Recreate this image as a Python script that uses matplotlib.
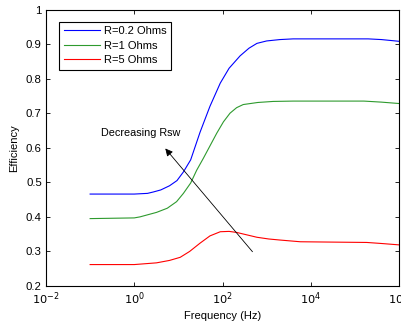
import matplotlib
matplotlib.use("Agg")
import matplotlib.pyplot as plt
import numpy as np

plt.rcParams['font.family'] = ['Liberation Sans', 'DejaVu Sans']

# frequency points (Hz) and efficiencies
freq_blue = [0.1, 1, 2, 2.7, 4, 6.3, 9.3, 13, 19, 31, 52, 89, 141, 251, 398, 603,
             1000, 2000, 4000, 200000, 400000, 1000000]
eff_blue = [0.466, 0.466, 0.468, 0.472, 0.478, 0.490, 0.505, 0.530, 0.565, 0.645, 0.720,
            0.787, 0.830, 0.866, 0.888, 0.902, 0.909, 0.913, 0.915, 0.915, 0.913, 0.908]

freq_green = [0.1, 1, 1.35, 3.2, 5.6, 9.1, 13, 19, 26, 37, 74, 105, 148, 209, 295, 631,
              1400, 4000, 160000, 400000, 1000000]
eff_green = [0.395, 0.397, 0.400, 0.413, 0.425, 0.444, 0.468, 0.498, 0.535, 0.570, 0.642,
             0.675, 0.700, 0.716, 0.725, 0.731, 0.734, 0.735, 0.735, 0.732, 0.728]

freq_red = [0.1, 1, 3.2, 6.3, 11, 18, 31, 52, 89, 141, 209, 355, 603, 1120, 2000, 5800,
            31600, 186000, 400000, 1000000]
eff_red = [0.262, 0.262, 0.267, 0.274, 0.283, 0.300, 0.324, 0.345, 0.357, 0.358, 0.355,
           0.348, 0.341, 0.336, 0.333, 0.328, 0.327, 0.326, 0.323, 0.319]

labels = ['R=0.2 Ohms', 'R=1 Ohms', 'R=5 Ohms']

fig = plt.figure(figsize=(4.01, 3.24), dpi=100)
ax = fig.add_axes([46 / 401, 1 - 286 / 324, 353 / 401, 276.5 / 324])

ax.semilogx(freq_blue, eff_blue, color='#0000ff', lw=0.8, label=labels[0])
ax.semilogx(freq_green, eff_green, color='#2e9a2e', lw=0.8, label=labels[1])
ax.semilogx(freq_red, eff_red, color='#ff0000', lw=0.8, label=labels[2])

ax.set_xlim(1e-2, 1e6)
ax.set_ylim(0.2, 1.0)
ax.set_xticks([1e-2, 1e0, 1e2, 1e4, 1e6])
ax.set_xticklabels(['$10^{-2}$', '$10^{0}$', '$10^{2}$', '$10^{4}$', '$10^{6}$'])
ax.set_yticks(np.arange(0.2, 1.01, 0.1))
ax.set_yticklabels(['0.2', '0.3', '0.4', '0.5', '0.6', '0.7', '0.8', '0.9', '1'])
ax.minorticks_off()
ax.tick_params(direction='in', top=True, right=True, labelsize=8.2, length=3, width=0.6, pad=3)
for s in ax.spines.values():
    s.set_linewidth(0.8)

ax.set_xlabel('Frequency (Hz)', fontsize=8, labelpad=3)
ax.set_ylabel('Efficiency', fontsize=8, labelpad=5)

ax.annotate('', xy=(4.6, 0.604), xytext=(525, 0.293),
            arrowprops=dict(arrowstyle='-|>', color='black', lw=0.6, mutation_scale=11))
ax.text(0.18, 0.643, 'Decreasing Rsw', fontsize=7.8, va='center', ha='left')

leg = ax.legend(loc='upper left', bbox_to_anchor=(0.037, 0.955), fontsize=8, fancybox=False,
                edgecolor='black', framealpha=1, borderpad=0.4, labelspacing=0.4,
                handlelength=3.3, handletextpad=0.3, borderaxespad=0)
leg.get_frame().set_linewidth(0.8)

fig.savefig('out.png', dpi=100)
